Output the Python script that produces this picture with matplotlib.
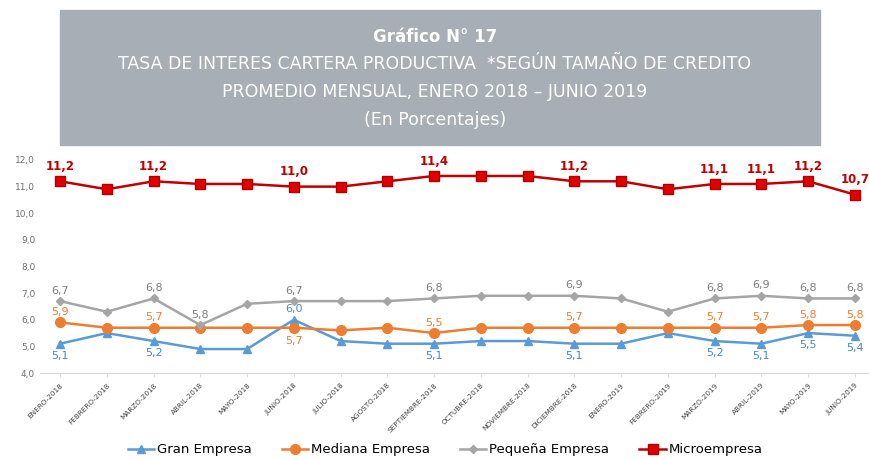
import matplotlib
matplotlib.use('Agg')
import matplotlib.pyplot as plt
from matplotlib.patches import Rectangle

meses = ['ENERO-2018', 'FEBRERO-2018', 'MARZO-2018', 'ABRIL-2018', 'MAYO-2018',
         'JUNIO-2018', 'JULIO-2018', 'AGOSTO-2018', 'SEPTIEMBRE-2018', 'OCTUBRE-2018',
         'NOVIEMBRE-2018', 'DICIEMBRE-2018', 'ENERO-2019', 'FEBRERO-2019', 'MARZO-2019',
         'ABRIL-2019', 'MAYO-2019', 'JUNIO-2019']

gran = [5.1, 5.5, 5.2, 4.9, 4.9, 6.0, 5.2, 5.1, 5.1, 5.2, 5.2, 5.1, 5.1, 5.5, 5.2, 5.1, 5.5, 5.4]
mediana = [5.9, 5.7, 5.7, 5.7, 5.7, 5.7, 5.6, 5.7, 5.5, 5.7, 5.7, 5.7, 5.7, 5.7, 5.7, 5.7, 5.8, 5.8]
pequena = [6.7, 6.3, 6.8, 5.8, 6.6, 6.7, 6.7, 6.7, 6.8, 6.9, 6.9, 6.9, 6.8, 6.3, 6.8, 6.9, 6.8, 6.8]
micro = [11.2, 10.9, 11.2, 11.1, 11.1, 11.0, 11.0, 11.2, 11.4, 11.4, 11.4, 11.2, 11.2, 10.9, 11.1, 11.1, 11.2, 10.7]

# indices con etiqueta de dato
idx_lab = [0, 2, 5, 8, 11, 14, 15, 16, 17]
idx_lab_peq = [0, 2, 3, 5, 8, 11, 14, 15, 16, 17]

fig = plt.figure(figsize=(8.69, 4.59), dpi=100)

# cabecera gris
fig.patches.append(Rectangle((60/869, 1-145/459), 760/869, 135/459,
                             transform=fig.transFigure, color='#a7aeb5', zorder=0))
fig.text(435/869, 1-37/459, 'Gráfico N° 17', color='white', fontsize=12,
         fontweight='bold', ha='center', va='center')
fig.text(435/869, 1-64/459, 'TASA DE INTERES CARTERA PRODUCTIVA  *SEGÚN TAMAÑO DE CREDITO',
         color='white', fontsize=12.5, ha='center', va='center')
fig.text(435/869, 1-92/459, 'PROMEDIO MENSUAL, ENERO 2018 – JUNIO 2019',
         color='white', fontsize=12.5, ha='center', va='center')
fig.text(435/869, 1-120/459, '(En Porcentajes)',
         color='white', fontsize=12.5, ha='center', va='center')

ax = fig.add_axes([40/869, 1-373/459, 828/869, 213/459])
x = list(range(len(meses)))

ax.plot(x, gran, color='#5b9bd5', marker='^', markersize=6, lw=1.8, label='Gran Empresa')
ax.plot(x, mediana, color='#ed7d31', marker='o', markersize=7, lw=1.8, label='Mediana Empresa')
ax.plot(x, pequena, color='#a5a5a5', marker='D', markersize=4, lw=1.8, label='Pequeña Empresa')
ax.plot(x, micro, color='#c00000', marker='s', markersize=6.5, lw=1.8,
        markerfacecolor='#e00000', markeredgecolor='#b00000', label='Microempresa')

def fmt(v):
    return ('%.1f' % v).replace('.', ',')

for i in idx_lab:
    ax.annotate(fmt(micro[i]), (i, micro[i]), xytext=(0, 6), textcoords='offset points',
                ha='center', va='bottom', fontsize=8.5, fontweight='bold', color='#c00000')
    ax.annotate(fmt(mediana[i]), (i, mediana[i]), xytext=(0, 4 if i != 5 else -6),
                textcoords='offset points', ha='center', va='bottom' if i != 5 else 'top',
                fontsize=8, color='#ed7d31')
    ax.annotate(fmt(gran[i]), (i, gran[i]), xytext=(0, -5 if i != 5 else 4),
                textcoords='offset points', ha='center', va='top' if i != 5 else 'bottom',
                fontsize=8, color='#4a86c0')
for i in idx_lab_peq:
    ax.annotate(fmt(pequena[i]), (i, pequena[i]), xytext=(0, 4), textcoords='offset points',
                ha='center', va='bottom', fontsize=8, color='#7f7f7f')

ax.set_ylim(4, 12)
ax.set_xlim(-0.43, 17.28)
ax.set_yticks([4, 5, 6, 7, 8, 9, 10, 11, 12])
ax.set_yticklabels([fmt(v) for v in [4, 5, 6, 7, 8, 9, 10, 11, 12]], fontsize=6.5, color='#707070')
ax.set_xticks(x)
ax.set_xticklabels(meses, rotation=45, ha='right', rotation_mode='anchor', fontsize=5.2, color='#404040')
ax.tick_params(axis='y', length=0)
ax.tick_params(axis='x', length=3, color='#e0e0e0')
for s in ['top', 'right', 'left']:
    ax.spines[s].set_visible(False)
ax.spines['bottom'].set_color('#d9d9d9')

ax.legend(loc='center', bbox_to_anchor=(445/869, 1-450/459), bbox_transform=fig.transFigure,
          ncol=4, frameon=False, fontsize=9.5, columnspacing=2.3, handlelength=2.0, handletextpad=0.2)

fig.savefig('out.png', dpi=100)
